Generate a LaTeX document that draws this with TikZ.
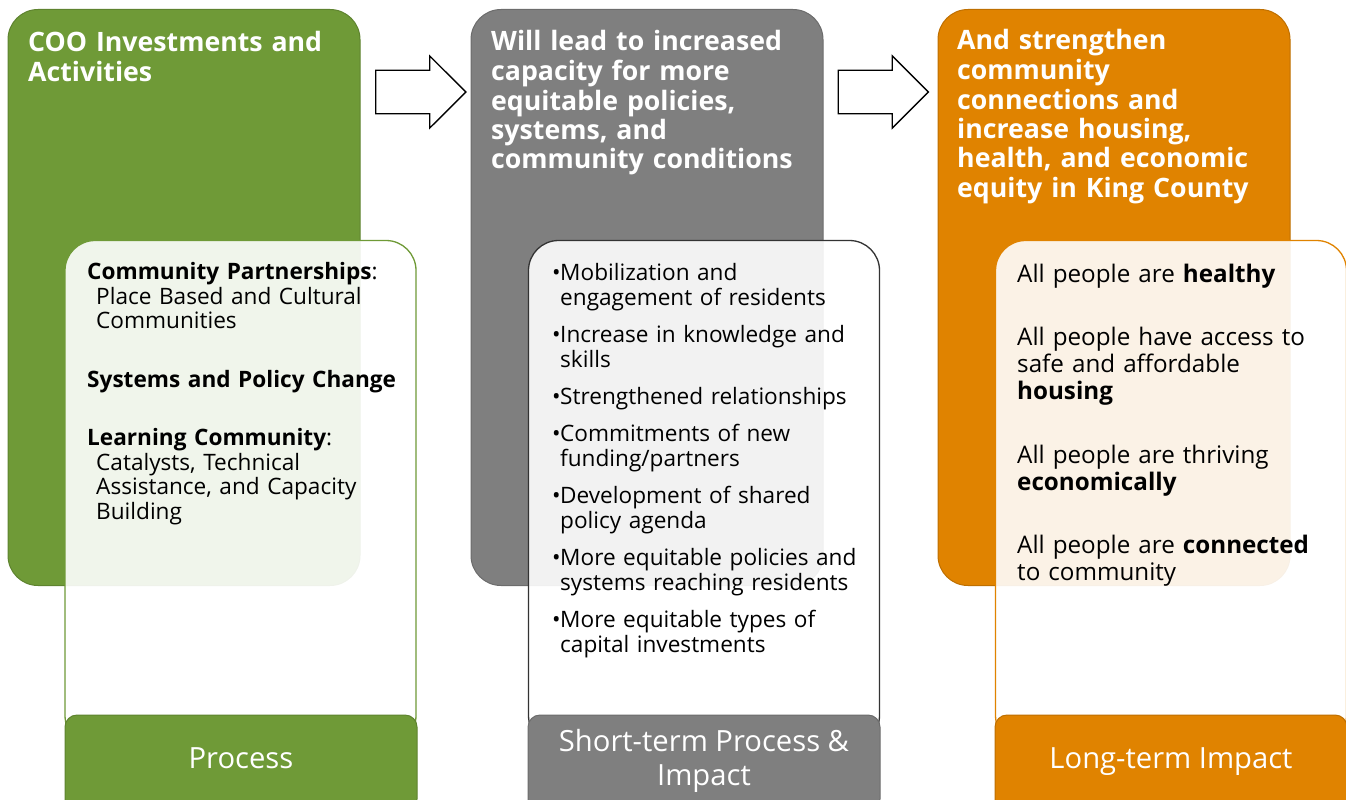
\documentclass[tikz,border=0pt]{standalone}
\usepackage{fontspec}
\setmainfont{Open Sans}
\usetikzlibrary{shapes.arrows, positioning}

\definecolor{coogreen}{HTML}{6F9A37}
\definecolor{coogray}{HTML}{7F7F7F}
\definecolor{cooorange}{HTML}{E08300}

\newcommand{\hdfont}{\bfseries\fontsize{26.7}{29.5}\selectfont}
\newcommand{\listfont}{\fontsize{22.6}{25}\selectfont}
\newcommand{\partfont}{\fontsize{22.6}{24.5}\selectfont}
\newcommand{\goalfont}{\fontsize{24.2}{27}\selectfont}
\newcommand{\tabfont}{\fontsize{29.2}{34}\selectfont}
% one bulleted entry, wrapped lines start under the text
\newcommand{\itm}[1]{{\leftskip=8pt\noindent\hspace*{-8pt}\makebox[8pt][l]{\textbullet}#1\par}}

\tikzset{
  bigbox/.style={draw=#1!85!black, fill=#1, rounded corners=30pt, line width=1pt,
    minimum width=352pt, minimum height=576pt, inner sep=0pt},
  listbox/.style={draw=#1, fill=white, fill opacity=0.9, rounded corners=30pt,
    line width=1.3pt, minimum width=351pt, minimum height=505pt, inner sep=0pt},
  tabbox/.style={draw=#1!85!black, fill=#1, rounded corners=12pt, line width=1pt,
    minimum width=352pt, minimum height=96pt, inner sep=0pt},
  hd/.style={anchor=base west, text=white, font=\hdfont, text width=330pt,
    align=left, inner sep=0pt},
  list/.style={anchor=base west, font=\listfont, text width=340pt, align=left, inner sep=0pt},
  tablbl/.style={text=white, font=\tabfont, align=center, inner sep=0pt},
  flow/.style={single arrow, draw=black, fill=white, line width=1.3pt,
    inner xsep=0pt, inner ysep=21pt, minimum height=90pt, minimum width=71pt,
    single arrow head extend=14.5pt, single arrow tip angle=90}
}

\begin{document}
\begin{tikzpicture}[x=1pt, y=-1pt]
\useasboundingbox (0,0) rectangle (1346,800);
\clip (0,0) rectangle (1346,800);

% process
\node[bigbox=coogreen] (coo) at (184,297.5) {};
\node[listbox=coogreen] (cooList) at (240.5,493) {};
\node[tabbox=coogreen] (cooTab) at (241,763) {};
\node[hd] (cooHd) at (28,52) {COO Investments and\\Activities};
\node[list, font=\partfont] (cooTxt) at (87,279.5) {\setlength{\parskip}{34pt}%
  \textbf{Community Partnerships}:\\\hspace*{9pt}Place Based and Cultural\\\hspace*{9pt}Communities\par
  \textbf{Systems and Policy Change}\par
  \textbf{Learning Community}:\\\hspace*{9pt}Catalysts, Technical\\\hspace*{9pt}Assistance, and Capacity\\\hspace*{9pt}Building};
\node[tablbl, anchor=base] (cooLbl) at (241,768) {Process};

% short-term
\node[bigbox=coogray] (cap) at (647,297.5) {};
\node[listbox=coogray!40!black] (capList) at (704,493) {};
\node[tabbox=coogray] (capTab) at (704,763) {};
\node[hd] (capHd) at (491,51) {Will lead to increased\\capacity for more\\equitable policies,\\systems, and\\community conditions};
\node[list] (capTxt) at (552,280.5) {\setlength{\parskip}{12pt}%
  \itm{Mobilization and\\engagement of residents}%
  \itm{Increase in knowledge and\\skills}%
  \itm{Strengthened relationships}%
  \itm{Commitments of new\\funding/partners}%
  \itm{Development of shared\\policy agenda}%
  \itm{More equitable policies and\\systems reaching residents}%
  \itm{More equitable types of\\capital investments}};
\node[tablbl] (capLbl) at (704,761) {Short-term Process \&\\Impact};

% long-term
\node[bigbox=cooorange] (eq) at (1114,297.5) {};
\node[listbox=cooorange] (eqList) at (1171,493) {};
\node[tabbox=cooorange] (eqTab) at (1171,763) {};
\node[hd] (eqHd) at (957,50) {And strengthen\\community\\connections and\\increase housing,\\health, and economic\\equity in King County};
\node[list, font=\goalfont] (eqTxt) at (1017,282) {\setlength{\parskip}{36.5pt}%
  All people are \textbf{healthy}\par
  All people have access to\\safe and affordable\\\textbf{housing}\par
  All people are thriving\\\textbf{economically}\par
  All people are \textbf{connected}\\to community};
\node[tablbl, anchor=base] (eqLbl) at (1171,768) {Long-term Impact};

% arrows between columns
\node[flow] (flowA) at (410,92) {};
\node[flow] (flowB) at (872.5,92) {};
\end{tikzpicture}
\end{document}
